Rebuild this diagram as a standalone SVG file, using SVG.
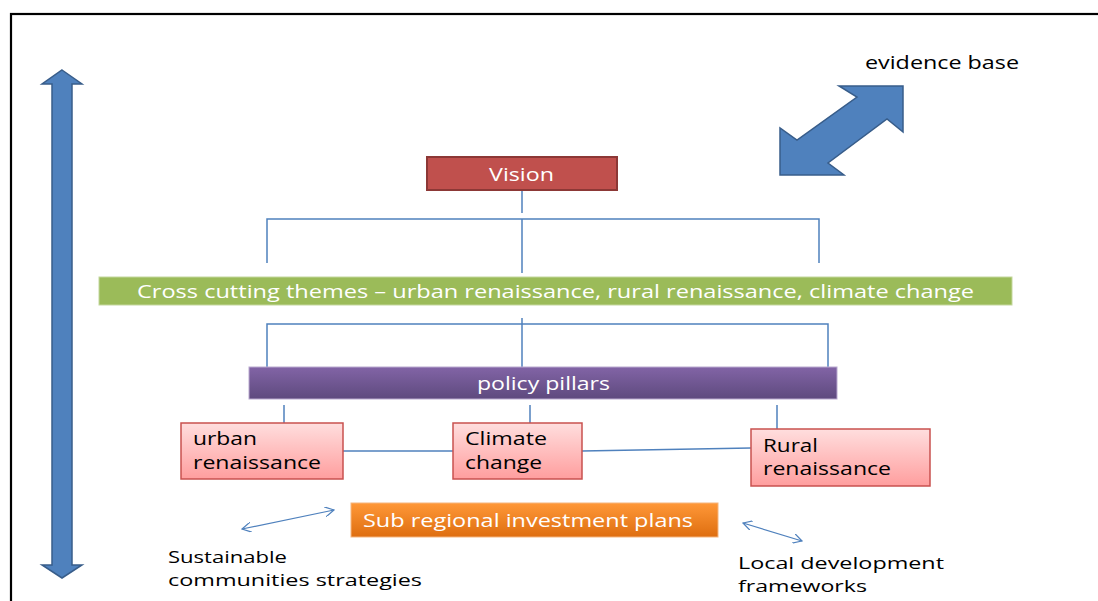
<svg xmlns="http://www.w3.org/2000/svg" width="1098" height="601" viewBox="0 0 1098 601">
<style>
text{font-family:"Open Sans","Liberation Sans",sans-serif;font-size:18px}
.w{fill:#FFFFFF}
.k{fill:#000000}
.s{font-size:17px}
.ln{stroke:#4F81BD;stroke-width:1.5;fill:none}
.thin{stroke:#4F81BD;stroke-width:1.2;fill:none}
.pink{fill:url(#gPink);stroke:#C9514F;stroke-width:1.5}
.big{fill:#4F81BD;stroke:#385D8A;stroke-width:1.5}
</style>
<defs>
<linearGradient id="gPink" x1="0" y1="0" x2="0" y2="1">
<stop offset="0" stop-color="#FFDEDE"/><stop offset="1" stop-color="#FF9E9E"/>
</linearGradient>
<linearGradient id="gPurple" x1="0" y1="0" x2="0" y2="1">
<stop offset="0" stop-color="#8264A6"/><stop offset="1" stop-color="#5E4A7E"/>
</linearGradient>
<linearGradient id="gOrange" x1="0" y1="0" x2="0" y2="1">
<stop offset="0" stop-color="#FF9838"/><stop offset="1" stop-color="#DE6E10"/>
</linearGradient>
<marker id="v" viewBox="0 0 10 10" refX="9" refY="5" markerWidth="10" markerHeight="10" markerUnits="userSpaceOnUse" orient="auto-start-reverse">
<path d="M0,0 L9,5 L0,10" fill="none" stroke="#4F81BD" stroke-width="1.2"/>
</marker>
</defs>
<rect width="1098" height="601" fill="#FFFFFF"/>
<rect x="11" y="14" width="1100" height="600" fill="none" stroke="#000000" stroke-width="2.2"/>

<g id="vertical-arrow">
<polygon class="big" points="62,70 82,84 72,84 72,565 82,565 62,578 42,565 52,565 52,84 42,84"/>
</g>
<g id="evidence-arrow">
<polygon class="big" points="903,86 903,132 887,119 828,163 844,175 780,175 780,128 797,140 857,97 839,86"/>
</g>
<g id="evidence-base"><text class="k" x="865" y="69" textLength="154" lengthAdjust="spacingAndGlyphs">evidence base</text></g>

<g id="connectors">
<line class="ln" x1="522" y1="190" x2="522" y2="213"/>
<polyline class="ln" points="267,263 267,219 819,219 819,263"/>
<line class="ln" x1="522" y1="219" x2="522" y2="273"/>
<polyline class="ln" points="267,367 267,324 828,324 828,367"/>
<line class="ln" x1="522" y1="318" x2="522" y2="373"/>
<line class="ln" x1="284" y1="405" x2="284" y2="423"/>
<line class="ln" x1="530" y1="405" x2="530" y2="423"/>
<line class="ln" x1="777" y1="405" x2="777" y2="429"/>
<line class="ln" x1="343" y1="451" x2="453" y2="451"/>
<line class="ln" x1="582" y1="451" x2="751" y2="448"/>
<line class="thin" x1="242" y1="529" x2="334" y2="510" marker-start="url(#v)" marker-end="url(#v)"/>
<line class="thin" x1="743" y1="523" x2="802" y2="541" marker-start="url(#v)" marker-end="url(#v)"/>
</g>

<g id="vision">
<rect x="427" y="157" width="190" height="33" fill="#C0504D" stroke="#8C3836" stroke-width="2"/>
<text class="w" x="489" y="181" textLength="65" lengthAdjust="spacingAndGlyphs">Vision</text>
</g>
<g id="cross-cutting">
<rect x="99" y="277" width="913" height="28" fill="#9BBB59" stroke="#C4D79E" stroke-width="1"/>
<text class="w" x="137" y="298" textLength="837" lengthAdjust="spacingAndGlyphs">Cross cutting themes – urban renaissance, rural renaissance, climate change</text>
</g>
<g id="policy-pillars">
<rect x="249" y="367" width="588" height="32" fill="url(#gPurple)" stroke="#B9A9CF" stroke-width="1"/>
<text class="w" x="477" y="390" textLength="133" lengthAdjust="spacingAndGlyphs">policy pillars</text>
</g>
<g id="urban">
<rect class="pink" x="181" y="423" width="162" height="56"/>
<text class="k" x="193" y="445" textLength="64" lengthAdjust="spacingAndGlyphs">urban</text>
<text class="k" x="193" y="469" textLength="128" lengthAdjust="spacingAndGlyphs">renaissance</text>
</g>
<g id="climate">
<rect class="pink" x="453" y="423" width="129" height="56"/>
<text class="k" x="465" y="445" textLength="82" lengthAdjust="spacingAndGlyphs">Climate</text>
<text class="k" x="465" y="469" textLength="77" lengthAdjust="spacingAndGlyphs">change</text>
</g>
<g id="rural">
<rect class="pink" x="751" y="429" width="179" height="57"/>
<text class="k" x="763" y="452" textLength="55" lengthAdjust="spacingAndGlyphs">Rural</text>
<text class="k" x="763" y="475" textLength="128" lengthAdjust="spacingAndGlyphs">renaissance</text>
</g>
<g id="sub-regional">
<rect x="351" y="503" width="367" height="34" fill="url(#gOrange)" stroke="#F5B57E" stroke-width="1"/>
<text class="w" x="363" y="527" textLength="330" lengthAdjust="spacingAndGlyphs">Sub regional investment plans</text>
</g>
<g id="sustainable">
<text class="k s" x="168" y="563" textLength="119" lengthAdjust="spacingAndGlyphs">Sustainable</text>
<text class="k s" x="168" y="586" textLength="254" lengthAdjust="spacingAndGlyphs">communities strategies</text>
</g>
<g id="local">
<text class="k s" x="738" y="569" textLength="206" lengthAdjust="spacingAndGlyphs">Local development</text>
<text class="k s" x="738" y="592" textLength="129" lengthAdjust="spacingAndGlyphs">frameworks</text>
</g>
</svg>
